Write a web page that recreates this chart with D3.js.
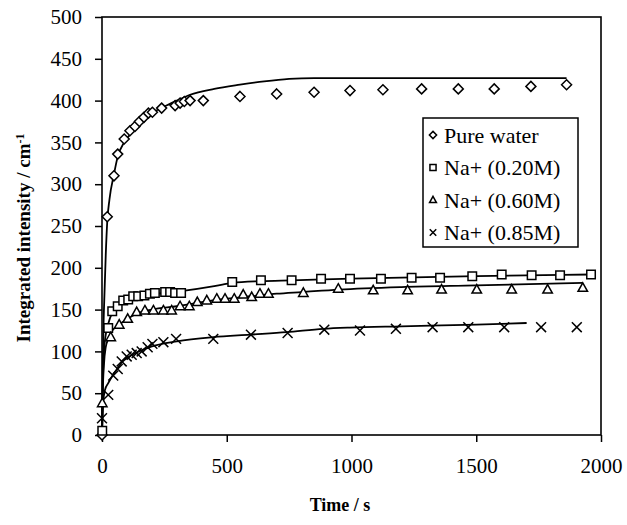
<!DOCTYPE html>
<html><head><meta charset="utf-8">
<script src="https://cdn.jsdelivr.net/npm/d3@7"></script>
<style>body{margin:0;background:#fff}svg{display:block}</style>
</head><body>
<script>
// ---- data ----
const seriesNames = ["Pure water", "Na+ (0.20M)", "Na+ (0.60M)", "Na+ (0.85M)"];
const xTicks = [0, 500, 1000, 1500, 2000];
const yTicks = [0, 50, 100, 150, 200, 250, 300, 350, 400, 450, 500];

const pureWaterPts = [[0,0],[21,261],[48,310],[63,336],[89,354],[112,364],[132,369],[150,375],[168,380],[186,385],[202,386],[239,391],[293,394],[313,397],[330,399],[353,400],[406,400],[553,405],[700,408],[850,410],[994,412],[1126,413],[1281,414],[1428,414],[1572,414],[1719,417],[1862,419]];
const pureWaterFit = [[0,0],[3,80],[6,130],[10,170],[15,215],[21,255],[30,282],[48,312],[63,333],[89,350],[120,362],[160,375],[200,385],[250,393],[300,400],[353,407],[450,414],[553,419],[650,423],[750,426],[850,427],[1862,427]];

const na020Pts = [[1,5],[25,128],[41,148],[63,154],[85,161],[105,162],[125,166],[145,166],[170,167],[192,169],[212,170],[253,171],[273,171],[293,170],[317,170],[522,183],[637,185],[760,185],[878,187],[994,187],[1118,187],[1241,188],[1355,188],[1484,190],[1602,192],[1722,191],[1836,191],[1960,192]];
const na020Fit = [[0,0],[3,60],[8,100],[15,120],[25,133],[41,146],[63,153],[100,160],[150,165],[200,168],[317,172],[450,178],[522,182],[637,184],[760,185],[1000,187],[1500,190],[1960,192]];

const na060Pts = [[1,38],[35,117],[69,132],[103,139],[139,147],[172,149],[206,149],[246,149],[279,149],[313,154],[350,154],[382,159],[420,161],[460,163],[493,163],[530,163],[566,168],[600,165],[633,169],[667,169],[807,170],[947,175],[1087,173],[1225,173],[1361,174],[1502,174],[1642,174],[1786,174],[1927,176]];
const na060Fit = [[0,0],[3,50],[8,85],[15,105],[25,115],[35,122],[69,132],[103,139],[139,145],[200,150],[300,154],[400,159],[500,163],[600,166],[700,169],[800,171],[950,174],[1200,177],[1500,179],[1927,182]];

const na085Pts = [[0,20],[25,48],[45,71],[63,79],[79,88],[99,94],[119,96],[139,98],[159,100],[183,105],[202,109],[246,111],[297,115],[446,115],[597,120],[744,122],[891,126],[1034,125],[1178,127],[1325,129],[1468,129],[1612,129],[1760,129],[1903,129]];
const na085Fit = [[0,0],[2,20],[5,40],[12,54],[25,62],[40,70],[63,80],[80,87],[100,92],[140,99],[200,106],[300,112],[446,117],[593,120],[740,123],[887,127],[994,128.5],[1200,130],[1500,132],[1702,134]];

const pointSets = [pureWaterPts, na020Pts, na060Pts, na085Pts];
const fitSets = [pureWaterFit, na020Fit, na060Fit, na085Fit];
const markerTypes = ["diamond", "square", "triangle", "cross"];

// ---- layout ----
const W = 627, H = 525;
const m = {left: 102, top: 17, right: 601, bottom: 435};
const svg = d3.select("body").append("svg").attr("width", W).attr("height", H);
const x = d3.scaleLinear().domain([0, 2000]).range([m.left, m.right]);
const y = d3.scaleLinear().domain([0, 500]).range([m.bottom, m.top]);
const font = "'Liberation Serif','Times New Roman',serif";

function markerPath(type, r) {
  const p = d3.path();
  if (type === "diamond") { p.moveTo(0,-r); p.lineTo(r,0); p.lineTo(0,r); p.lineTo(-r,0); p.closePath(); }
  else if (type === "square") { const s = r*0.85; p.rect(-s,-s,2*s,2*s); }
  else if (type === "triangle") { p.moveTo(0,-r); p.lineTo(r*0.95,r*0.7); p.lineTo(-r*0.95,r*0.7); p.closePath(); }
  else { const s = r*0.9; p.moveTo(-s,-s); p.lineTo(s,s); p.moveTo(s,-s); p.lineTo(-s,s); }
  return p.toString();
}

// axes
const fmt = d3.format("d");
const xAxis = d3.axisBottom(x).tickValues(xTicks).tickFormat(fmt).tickSize(7).tickSizeOuter(0).tickPadding(14);
const yAxis = d3.axisLeft(y).tickValues(yTicks).tickFormat(fmt).tickSize(7).tickSizeOuter(0).tickPadding(13);
const gx = svg.append("g").attr("transform", `translate(0,${m.bottom})`).call(xAxis);
const gy = svg.append("g").attr("transform", `translate(${m.left},0)`).call(yAxis);
[gx, gy].forEach(g => {
  g.select(".domain").remove();
  g.selectAll("line").attr("stroke", "#000").attr("stroke-width", 1.5);
  g.selectAll("text").attr("font-family", font).attr("font-size", 21).attr("fill", "#000");
});
gx.selectAll("text").attr("dy", "0.8em");

// frame
svg.append("rect").attr("x", m.left).attr("y", m.top)
  .attr("width", m.right - m.left).attr("height", m.bottom - m.top)
  .attr("fill", "none").attr("stroke", "#000").attr("stroke-width", 1.6);

// fit lines
const line = d3.line().x(d => x(d[0])).y(d => y(d[1])).curve(d3.curveMonotoneX);
fitSets.forEach(f => {
  svg.append("path").attr("d", line(f)).attr("fill", "none")
    .attr("stroke", "#000").attr("stroke-width", 1.8);
});

// markers
pointSets.forEach((pts, i) => {
  svg.append("g").selectAll("path").data(pts).join("path")
    .attr("transform", d => `translate(${x(d[0])},${y(d[1])})`)
    .attr("d", markerPath(markerTypes[i], markerTypes[i] === "cross" ? 5.5 : 5))
    .attr("fill", "#fff").attr("stroke", "#000").attr("stroke-width", 1.5);
});

// legend
const lg = svg.append("g");
lg.append("rect").attr("x", 423).attr("y", 118).attr("width", 155).attr("height", 129)
  .attr("fill", "#fff").attr("stroke", "#000").attr("stroke-width", 1.5);
seriesNames.forEach((name, i) => {
  const cy = 135 + i * 32.5;
  lg.append("path").attr("transform", `translate(433,${cy})`)
    .attr("d", markerPath(markerTypes[i], 3.6))
    .attr("fill", "#fff").attr("stroke", "#000").attr("stroke-width", 1.5);
  lg.append("text").attr("x", 444).attr("y", cy).attr("dy", "0.35em")
    .attr("font-family", font).attr("font-size", 22).text(name);
});

// axis titles
svg.append("text").attr("x", 340).attr("y", 511).attr("text-anchor", "middle")
  .attr("font-family", font).attr("font-size", 18).attr("font-weight", "bold").text("Time / s");
const yt = svg.append("text").attr("transform", "translate(30,238) rotate(-90)")
  .attr("text-anchor", "middle").attr("font-family", font).attr("font-size", 19).attr("font-weight", "bold");
yt.append("tspan").text("Integrated intensity / cm");
yt.append("tspan").attr("dy", "-0.5em").attr("font-size", 12).text("-1");
</script>
</body></html>
